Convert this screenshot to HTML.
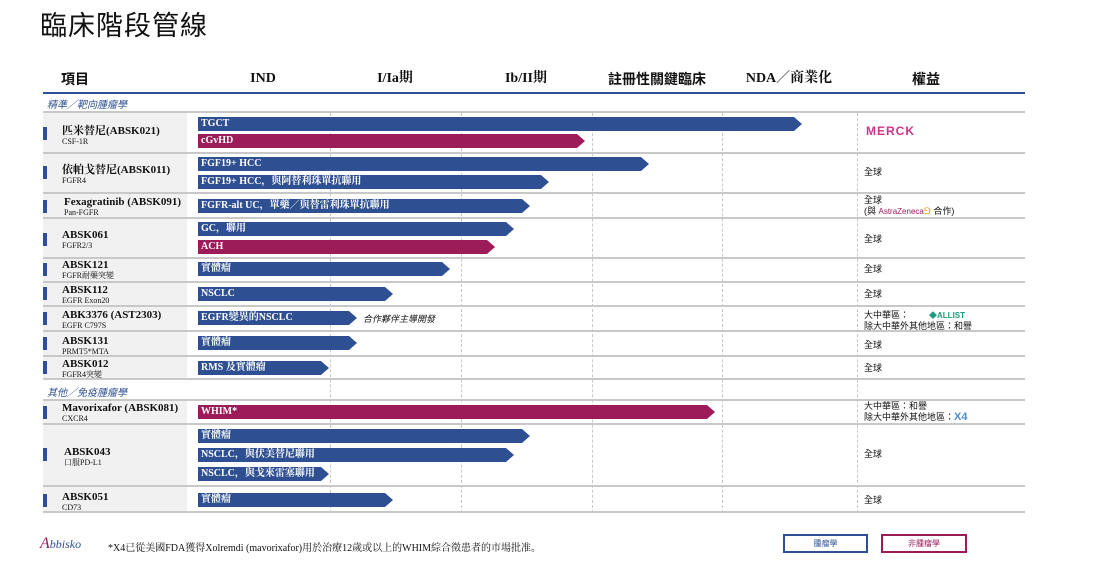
<!DOCTYPE html>
<html><head><meta charset="utf-8"><style>
*{margin:0;padding:0;box-sizing:border-box}
body{width:1108px;height:577px;background:#fff;position:relative;overflow:hidden;font-family:"Liberation Serif","Noto Serif CJK SC","Noto Sans CJK TC",serif;color:#111}
.a{position:absolute}
.h{position:absolute;font-weight:bold;font-size:14px;line-height:16px;height:16px;top:71px;transform:translateX(-50%);white-space:nowrap}
.sep{position:absolute;left:43px;width:982px;height:2px;background:#c8c8c8}
.gray{position:absolute;left:43px;width:144px;background:#f1f1f1}
.dash{position:absolute;top:113px;height:400px;border-left:1px dashed #c8c8c8}
.bar{position:absolute;left:198px;height:14px;color:#fff;font-size:10px;font-weight:bold;line-height:14px;padding-left:3px;white-space:nowrap;clip-path:polygon(0 0,calc(100% - 8px) 0,100% 50%,calc(100% - 8px) 100%,0 100%)}
.b{background:#2e5092}.m{background:#9c1c59}
.mk{position:absolute;left:43px;width:4px;height:13px;background:#2e5092}
.n{position:absolute;left:62px;font-weight:bold;font-size:11px;line-height:12px;white-space:nowrap}
.s{display:block;font-weight:normal;font-size:8px;line-height:10px}
.r{position:absolute;left:864px;font-size:9px;line-height:11px;font-family:"Liberation Sans","Noto Sans CJK TC",sans-serif;white-space:nowrap}
.sec{position:absolute;left:47px;font-size:10px;font-style:italic;color:#2e5092;font-family:"Liberation Sans","Noto Sans CJK TC",sans-serif}
</style></head><body>
<div class="a" style="left:40px;top:4px;font-size:27px;font-family:'Noto Sans CJK TC',sans-serif;letter-spacing:1px">臨床階段管線</div>
<div class="h" style="left:75px;font-family:'Noto Sans CJK TC',sans-serif">項目</div>
<div class="h" style="left:263px">IND</div>
<div class="h" style="left:395px">I/Ia期</div>
<div class="h" style="left:526px">Ib/II期</div>
<div class="h" style="left:657px;font-family:'Noto Sans CJK TC',sans-serif">註冊性關鍵臨床</div>
<div class="h" style="left:789px">NDA／商業化</div>
<div class="h" style="left:926px;font-family:'Noto Sans CJK TC',sans-serif">權益</div>
<div class="a" style="left:43px;top:92px;width:982px;height:2px;background:#2e5092"></div>
<div class="sec" style="top:96px">精準／靶向腫瘤學</div>
<div class="gray" style="top:113px;height:266px"></div>
<div class="gray" style="top:401px;height:111px"></div>
<div class="dash" style="left:330px"></div><div class="dash" style="left:461px"></div><div class="dash" style="left:592px"></div><div class="dash" style="left:722px"></div><div class="dash" style="left:857px"></div>
<div class="sep" style="top:111px"></div><div class="sep" style="top:152px"></div><div class="sep" style="top:192px"></div><div class="sep" style="top:217px"></div><div class="sep" style="top:257px"></div><div class="sep" style="top:281px"></div><div class="sep" style="top:305px"></div><div class="sep" style="top:330px"></div><div class="sep" style="top:355px"></div><div class="sep" style="top:378px"></div><div class="sep" style="top:399px"></div><div class="sep" style="top:423px"></div><div class="sep" style="top:485px"></div><div class="sep" style="top:511px"></div>
<div class="sec" style="top:384px">其他／免疫腫瘤學</div>

<div class="mk" style="top:127px"></div><div class="n" style="top:125px">匹米替尼(ABSK021)<span class="s">CSF-1R</span></div>
<div class="bar b" style="top:117px;width:604px">TGCT</div><div class="bar m" style="top:134px;width:387px">cGvHD</div>
<div class="r" style="top:126px;left:866px;color:#d1338a;font-weight:bold;font-size:12px;font-family:'Liberation Sans',sans-serif;letter-spacing:1px">MERCK</div>

<div class="mk" style="top:166px"></div><div class="n" style="top:164px">依帕戈替尼(ABSK011)<span class="s">FGFR4</span></div>
<div class="bar b" style="top:157px;width:451px">FGF19+ HCC</div><div class="bar b" style="top:175px;width:351px">FGF19+ HCC，與阿替利珠單抗聯用</div>
<div class="r" style="top:167px">全球</div>

<div class="mk" style="top:200px"></div><div class="n" style="top:196px;left:64px">Fexagratinib (ABSK091)<span class="s">Pan-FGFR</span></div>
<div class="bar b" style="top:199px;width:332px">FGFR-alt UC，單藥／與替雷利珠單抗聯用</div>
<div class="r" style="top:195px">全球<br>(與 <span style="color:#a0185c;font-size:8px">AstraZeneca</span><span style="color:#e8a000">⅁</span> 合作)</div>

<div class="mk" style="top:233px"></div><div class="n" style="top:229px">ABSK061<span class="s">FGFR2/3</span></div>
<div class="bar b" style="top:222px;width:316px">GC，聯用</div><div class="bar m" style="top:240px;width:297px">ACH</div>
<div class="r" style="top:234px">全球</div>

<div class="mk" style="top:263px"></div><div class="n" style="top:259px">ABSK121<span class="s">FGFR耐藥突變</span></div>
<div class="bar b" style="top:262px;width:252px">實體瘤</div><div class="r" style="top:264px">全球</div>

<div class="mk" style="top:287px"></div><div class="n" style="top:284px">ABSK112<span class="s">EGFR Exon20</span></div>
<div class="bar b" style="top:287px;width:195px">NSCLC</div><div class="r" style="top:289px">全球</div>

<div class="mk" style="top:312px"></div><div class="n" style="top:309px">ABK3376 (AST2303)<span class="s">EGFR C797S</span></div>
<div class="bar b" style="top:311px;width:159px">EGFR變異的NSCLC</div>
<div class="a" style="left:363px;top:312px;font-size:9px;font-style:italic;font-family:'Noto Sans CJK TC',sans-serif">合作夥伴主導開發</div>
<div class="r" style="top:310px">大中華區：<span style="color:#1a9a7e;margin-left:20px;font-size:8px;font-weight:bold">◆ALLIST</span><br>除大中華外其他地區：和譽</div>

<div class="mk" style="top:337px"></div><div class="n" style="top:335px">ABSK131<span class="s">PRMT5*MTA</span></div>
<div class="bar b" style="top:336px;width:159px">實體瘤</div><div class="r" style="top:340px">全球</div>

<div class="mk" style="top:361px"></div><div class="n" style="top:358px">ABSK012<span class="s">FGFR4突變</span></div>
<div class="bar b" style="top:361px;width:131px">RMS 及實體瘤</div><div class="r" style="top:363px">全球</div>

<div class="mk" style="top:406px"></div><div class="n" style="top:402px">Mavorixafor (ABSK081)<span class="s">CXCR4</span></div>
<div class="bar m" style="top:405px;width:517px">WHIM*</div>
<div class="r" style="top:401px">大中華區：和譽<br>除大中華外其他地區：<span style="color:#4a8fc9;font-weight:bold;font-size:11px">X4</span></div>

<div class="mk" style="top:448px"></div><div class="n" style="top:446px;left:64px">ABSK043<span class="s">口服PD-L1</span></div>
<div class="bar b" style="top:429px;width:332px">實體瘤</div><div class="bar b" style="top:448px;width:316px">NSCLC，與伏美替尼聯用</div><div class="bar b" style="top:467px;width:131px">NSCLC，與戈來雷塞聯用</div>
<div class="r" style="top:449px">全球</div>

<div class="mk" style="top:494px"></div><div class="n" style="top:491px">ABSK051<span class="s">CD73</span></div>
<div class="bar b" style="top:493px;width:195px">實體瘤</div><div class="r" style="top:495px">全球</div>

<div class="a" style="left:40px;top:535px;font-size:16px;font-style:italic;color:#9c1c59">A<span style="font-size:12px;color:#2e5092">bbisko</span></div>
<div class="a" style="left:108px;top:539px;font-size:10px">*X4已從美國FDA獲得Xolremdi (mavorixafor)用於治療12歲或以上的WHIM綜合徵患者的市場批准。</div>
<div class="a" style="left:783px;top:534px;width:85px;height:19px;border:2px solid #2e5092;font-size:8px;text-align:center;line-height:15px;color:#2e5092;font-family:'Noto Sans CJK TC',sans-serif">腫瘤學</div>
<div class="a" style="left:881px;top:534px;width:86px;height:19px;border:2px solid #9c1c59;font-size:8px;text-align:center;line-height:15px;color:#9c1c59;font-family:'Noto Sans CJK TC',sans-serif">非腫瘤學</div>
</body></html>
